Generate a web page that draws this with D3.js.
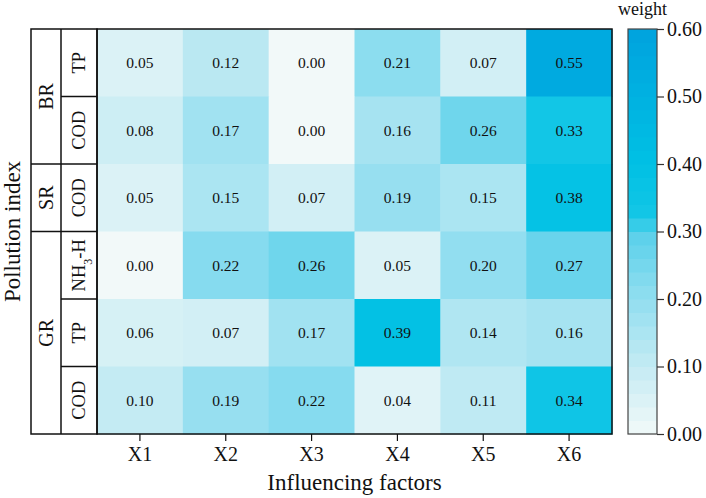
<!DOCTYPE html>
<html>
<head>
<meta charset="utf-8">
<script src="https://cdn.jsdelivr.net/npm/d3@7"></script>
<style>
    body { margin: 0; background: #fff; }
    svg text { font-family: 'Liberation Serif', 'Times New Roman', serif; fill: #111; }
</style>
</head>
<body>
<div id="chart"></div>
<script>
// data
const factors = ['X1', 'X2', 'X3', 'X4', 'X5', 'X6'];
const groups = ['BR', 'BR', 'SR', 'GR', 'GR', 'GR'];
const indices = ['TP', 'COD', 'COD', 'NH3-H', 'TP', 'COD'];
const weights = [
    [0.05, 0.12, 0.00, 0.21, 0.07, 0.55],
    [0.08, 0.17, 0.00, 0.16, 0.26, 0.33],
    [0.05, 0.15, 0.07, 0.19, 0.15, 0.38],
    [0.00, 0.22, 0.26, 0.05, 0.20, 0.27],
    [0.06, 0.07, 0.17, 0.39, 0.14, 0.16],
    [0.10, 0.19, 0.22, 0.04, 0.11, 0.34]
];
const legendTicks = [0, 0.1, 0.2, 0.3, 0.4, 0.5, 0.6];

const width = 706, height = 498;
const serif = "'Liberation Serif', 'Times New Roman', serif";
let margin = { top: 29, right: 94, bottom: 64, left: 97 };

const svg = d3.select('#chart')
    .append('svg')
    .attr('width', width)
    .attr('height', height);

let rowIds = d3.range(indices.length);

let x = d3.scaleBand()
    .domain(factors)
    .range([margin.left, width - margin.right]);

let y = d3.scaleBand()
    .domain(rowIds)
    .range([margin.top, height - margin.bottom]);

let color = d3.scaleLinear()
    .domain([0, 0.1, 0.2, 0.3, 0.32, 0.4, 0.6])
    .range(['#f2f9f9', '#c4ebf3', '#92def0', '#58d0ea', '#14c7e6', '#00c0e4', '#00a2de'])
    .clamp(true);

// cells
let cells = [];
weights.forEach((row, i) => {
    row.forEach((v, j) => cells.push({ row: i, col: factors[j], value: v }));
});

svg.selectAll('rect.cell')
    .data(cells)
    .enter()
    .append('rect')
    .attr('class', 'cell')
    .attr('x', d => x(d.col))
    .attr('y', d => y(d.row))
    .attr('width', x.bandwidth() + 0.5)
    .attr('height', y.bandwidth() + 0.5)
    .attr('fill', d => color(d.value));

svg.selectAll('text.val')
    .data(cells)
    .enter()
    .append('text')
    .attr('class', 'val')
    .attr('x', d => x(d.col) + x.bandwidth() / 2)
    .attr('y', d => y(d.row) + y.bandwidth() / 2)
    .attr('dy', '0.35em')
    .attr('text-anchor', 'middle')
    .attr('font-size', 15.5)
    .text(d => d.value.toFixed(2));

// heatmap frame
svg.append('rect')
    .attr('x', margin.left)
    .attr('y', margin.top)
    .attr('width', x.range()[1] - margin.left)
    .attr('height', y.range()[1] - margin.top)
    .attr('fill', 'none')
    .attr('stroke', '#111')
    .attr('stroke-width', 1.5);

// x axis
let xAxis = svg.append('g')
    .attr('transform', `translate(0,${y.range()[1]})`)
    .call(d3.axisBottom(x).tickSize(7).tickPadding(6));
xAxis.select('.domain').remove();
xAxis.selectAll('line').attr('stroke', '#111').attr('stroke-width', 1.2);
xAxis.selectAll('text')
    .attr('font-family', serif)
    .attr('font-size', 20)
    .attr('fill', '#111');

svg.append('text')
    .attr('x', (x.range()[0] + x.range()[1]) / 2)
    .attr('y', 490)
    .attr('text-anchor', 'middle')
    .attr('font-size', 23)
    .text('Influencing factors');

// row label columns
const outerX = 31, innerX = 61;
let labels = svg.append('g');
labels.append('rect')
    .attr('x', outerX)
    .attr('y', margin.top)
    .attr('width', margin.left - outerX)
    .attr('height', y.range()[1] - margin.top)
    .attr('fill', 'none')
    .attr('stroke', '#111')
    .attr('stroke-width', 1.5);
labels.append('line')
    .attr('x1', innerX).attr('x2', innerX)
    .attr('y1', margin.top).attr('y2', y.range()[1])
    .attr('stroke', '#111').attr('stroke-width', 1.5);

rowIds.forEach(i => {
    if (i > 0) {
        let x1 = groups[i] !== groups[i - 1] ? outerX : innerX;
        labels.append('line')
            .attr('x1', x1).attr('x2', margin.left)
            .attr('y1', y(i)).attr('y2', y(i))
            .attr('stroke', '#111').attr('stroke-width', 1.5);
    }
    let cy = y(i) + y.bandwidth() / 2;
    let t = labels.append('text')
        .attr('transform', `translate(${(innerX + margin.left) / 2 + 6},${cy}) rotate(-90)`)
        .attr('text-anchor', 'middle')
        .attr('font-size', 18.5);
    if (indices[i] === 'NH3-H') {
        t.append('tspan').text('NH');
        t.append('tspan').attr('baseline-shift', 'sub').attr('font-size', 12).text('3');
        t.append('tspan').text('-H');
    } else {
        t.text(indices[i]);
    }
});

// group labels
let groupSpans = d3.groups(rowIds, i => groups[i]);
groupSpans.forEach(([g, ids]) => {
    let top = y(ids[0]);
    let bottom = y(ids[ids.length - 1]) + y.bandwidth();
    labels.append('text')
        .attr('transform', `translate(${(outerX + innerX) / 2 + 7},${(top + bottom) / 2}) rotate(-90)`)
        .attr('text-anchor', 'middle')
        .attr('font-size', 20)
        .text(g);
});

svg.append('text')
    .attr('transform', `translate(20,${(y.range()[0] + y.range()[1]) / 2}) rotate(-90)`)
    .attr('text-anchor', 'middle')
    .attr('font-size', 23)
    .text('Pollution index');

// colour bar
const barX = 628, barW = 29;
let yLeg = d3.scaleLinear()
    .domain([0, 0.6])
    .range([y.range()[1], margin.top]);

let steps = d3.range(0, 0.6, 0.02);
svg.selectAll('rect.leg')
    .data(steps)
    .enter()
    .append('rect')
    .attr('class', 'leg')
    .attr('x', barX)
    .attr('y', d => yLeg(d + 0.02))
    .attr('width', barW)
    .attr('height', d => yLeg(d) - yLeg(d + 0.02) + 0.5)
    .attr('fill', d => color(d + 0.01));

svg.append('rect')
    .attr('x', barX)
    .attr('y', margin.top)
    .attr('width', barW)
    .attr('height', y.range()[1] - margin.top)
    .attr('fill', 'none')
    .attr('stroke', '#444')
    .attr('stroke-width', 1.2);

let legAxis = svg.append('g')
    .attr('transform', `translate(${barX + barW},0)`)
    .call(d3.axisRight(yLeg).tickValues(legendTicks).tickFormat(d3.format('.2f')).tickSize(7).tickPadding(3));
legAxis.select('.domain').remove();
legAxis.selectAll('line').attr('stroke', '#333').attr('stroke-width', 1.2);
legAxis.selectAll('text')
    .attr('font-family', serif)
    .attr('font-size', 20)
    .attr('fill', '#111');

svg.append('text')
    .attr('x', barX + barW / 2)
    .attr('y', 15)
    .attr('text-anchor', 'middle')
    .attr('font-size', 18)
    .text('weight');
</script>
</body>
</html>
